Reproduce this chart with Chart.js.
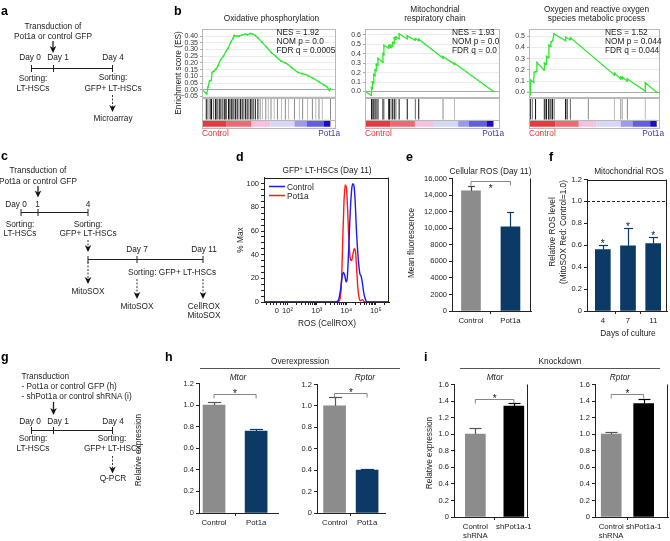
<!DOCTYPE html>
<html><head><meta charset="utf-8">
<script src="https://cdn.jsdelivr.net/npm/chart.js@4.4.0/dist/chart.umd.min.js"></script>
<style>
html,body{margin:0;padding:0;background:#fff;}
#wrap{position:relative;width:670px;height:541px;overflow:hidden;}
#wrap canvas{position:absolute;}
#wrap svg{position:absolute;left:0;top:0;pointer-events:none;}
</style></head><body><div id="wrap"></div>
<script>
// ======================= DATA =======================
// Panel b: GSEA running enrichment scores, [rank position % , ES]
const gseaTitles = [["Oxidative phosphorylation"], ["Mitochondrial", "respiratory chain"], ["Oxygen and reactive oxygen", "species metabolic process"]];
const gseaStats = [["NES = 1.92", "NOM p = 0.0", "FDR q = 0.0005"], ["NES = 1.93", "NOM p = 0.0", "FDR q = 0.0"], ["NES = 1.52", "NOM p = 0.044", "FDR q = 0.044"]];
const es1 = [[0,0],[3.5,-0.03],[4.5,0.02],[5.6,0.065],[7,0.07],[7.5,0.13],[9,0.14],[10.5,0.155],[12,0.18],[14,0.225],[16,0.25],[17.8,0.285],[19.5,0.31],[21.5,0.357],[23,0.38],[24,0.405],[26,0.4],[27.5,0.4],[30,0.41],[32.4,0.415],[34,0.41],[36,0.42],[38,0.415],[39.8,0.405],[42,0.385],[44.6,0.357],[48,0.32],[52,0.274],[55,0.25],[59,0.214],[62,0.2],[64,0.19],[67,0.165],[71.5,0.13],[75,0.12],[78.8,0.107],[83,0.085],[87.3,0.06],[91,0.036],[93,0.025],[95.1,-0.005],[95.9,0.007]];
const es2 = [[0,0],[4.7,-0.04],[4.8,0.04],[5.4,0.03],[5.5,0.1],[6.4,0.09],[6.5,0.18],[7.4,0.17],[7.5,0.23],[8.3,0.22],[8.4,0.29],[9.5,0.28],[9.6,0.35],[13.2,0.31],[13.3,0.4],[13.9,0.39],[14,0.49],[17.5,0.46],[17.6,0.48],[18,0.475],[18.1,0.49],[19.2,0.47],[19.3,0.49],[20.4,0.48],[20.5,0.52],[21.6,0.51],[21.7,0.57],[22.8,0.555],[22.9,0.58],[25.2,0.56],[25.3,0.61],[31.2,0.56],[31.3,0.59],[37.2,0.545],[37.3,0.56],[39.7,0.54],[39.8,0.555],[57.7,0.355],[57.8,0.37],[66.2,0.29],[66.3,0.3],[95.2,0]];
const es3 = [[0,-0.01],[1,-0.02],[1.2,0.11],[3.5,0.09],[4,0.18],[5.5,0.185],[6,0.265],[11.5,0.2],[11.8,0.26],[13,0.25],[13.4,0.32],[14.8,0.31],[15.2,0.42],[16.6,0.41],[16.9,0.45],[18,0.46],[19.2,0.52],[27.8,0.46],[28,0.49],[31.4,0.47],[31.7,0.485],[65.2,0.155],[65.3,0.17],[70,0.12],[70.1,0.135],[71.3,0.123],[71.4,0.135],[75,0.1],[75.1,0.12],[88.7,0.012],[88.8,0.085],[97.5,0]];
// gene-set hit positions (% of ranked list)
const hits1 = [3.2,4.4,6.1,7.1,8.5,10,10.5,11.7,12.9,14.1,15.4,16.6,17.3,18.3,19.8,20.2,21.5,22.2,23.2,24.6,25.1,26.3,27.6,28.8,30,31.2,32.4,33.7,34.9,36.1,37.3,38.5,39.8,41.7,43.4,45.1,47.6,49.5,51.5,53.9,56.3,59.3,62.2,64.6,69,72.7,75.1,78.8,82.4,84.9,87.3,89.8,95.9];
const hits2 = [4.8,5.5,6.5,7.5,8.4,9.6,13.3,14,17.6,18.1,19.3,20.5,21.7,22.9,25.3,31.3,37.3,39.8,57.8,66.3];
const hits3 = [1,2.5,5,11.7,12.4,13.4,14.9,15.4,16.7,17.9,19.2,27.9,29.1,31.6,45.3,65.2,70.1,71.4,75.1,88.8];
// ranked-list colour bar segment boundaries (% of list)
const rankBounds1 = [0,18,37,51,69,78,91,95.8];
const rankBounds2 = [0,19,37,51,69,77,90,95.2];
const rankBounds3 = [0,20,38,51.5,70,79,92.5,97.5];
const gseaTicks1 = [0.40,0.35,0.30,0.25,0.20,0.15,0.10,0.05,0.00,-0.05];
const gseaTicks2 = [0.6,0.5,0.4,0.3,0.2,0.1,0.0];
const gseaTicks3 = [0.5,0.4,0.3,0.2,0.1,0.0];

// Panel d: histogram, [log-scaled fluorescence position, % of max]
const histControl = [[1.2,0],[3.6,0],[3.72,1],[3.8,10],[3.86,22],[3.9,25],[3.95,22],[3.99,17],[4.03,20],[4.08,45],[4.13,75],[4.18,95],[4.22,100],[4.26,98],[4.3,85],[4.34,62],[4.38,45],[4.42,32],[4.46,24],[4.5,22],[4.54,17],[4.59,8],[4.64,3],[4.7,0],[5.45,0]];
const histPot1a = [[1.2,0],[3.7,0],[3.78,2],[3.84,20],[3.88,55],[3.92,85],[3.96,99],[4.0,97],[4.04,80],[4.09,50],[4.14,36],[4.18,35],[4.22,40],[4.27,45],[4.31,43],[4.35,28],[4.39,12],[4.43,4],[4.48,1],[4.55,2],[4.62,0],[5.45,0]];
const dTickVals = [1.64,2,3,4,5];
const dTickLabels = ["0","10\u00B2","10\u00B3","10\u2074","10\u2075"];
const dYTicks = [0,20,40,60,80,100];

// Panel e
const eCats = ["Control","Pot1a"];
const eMeans = [14500,10150];
const eErr = [600,1800];
const eTicks = [0,2000,4000,6000,8000,10000,12000,14000,16000];
// Panel f
const fCats = ["4","7","11"];
const fMeans = [0.56,0.595,0.615];
const fErr = [0.04,0.165,0.06];
const fTicks = [0,0.2,0.4,0.6,0.8,1.0,1.2];
// Panel h
const hCats = ["Control","Pot1a"];
const hMtorMeans = [1.0,0.76];
const hMtorErr = [0.03,0.02];
const hRptorMeans = [1.0,0.40];
const hRptorErr = [0.085,0.015];
const hTicks = [0,0.2,0.4,0.6,0.8,1.0,1.2];
// Panel i
const iCats = [["Control","shRNA"],"shPot1a-1"];
const iMtorMeans = [1.0,1.34];
const iMtorErr = [0.08,0.035];
const iRptorMeans = [1.0,1.37];
const iRptorErr = [0.03,0.05];
const iTicks = [0,0.2,0.4,0.6,0.8,1.0,1.2,1.4,1.6];

// ======================= STYLE / LAYOUT =======================
const FONT = "'Liberation Sans', Arial, Helvetica, sans-serif";
Chart.defaults.font.family = FONT;
Chart.defaults.font.size = 7.5;
Chart.defaults.color = '#222';
const GRAY = '#8c8c8c', NAVY = '#0b3a66', BLACK = '#000';
const rankColors = ['#e8393f','#ee6a72','#f5bfe0','#d6d6f6','#9a9aee','#5f5fe2','#1a0ec4'];
const wrap = document.getElementById('wrap');

function mkCanvas(p, yw, xh, padT, padR, padB) {
  const cv = document.createElement('canvas');
  const w = yw + (p.r - p.l) + padR, h = padT + (p.b - p.t) + xh + padB;
  cv.width = w; cv.height = h;
  cv.style.left = (p.l - yw) + 'px'; cv.style.top = (p.t - padT) + 'px';
  cv.style.width = w + 'px'; cv.style.height = h + 'px';
  wrap.appendChild(cv);
  return cv;
}

const annotPlugin = {
  id: 'annot',
  afterDatasetsDraw(chart, args, o) {
    const c = chart.ctx, ca = chart.chartArea, ys = chart.scales.y;
    c.save();
    const line = (x1, y1, x2, y2) => { c.beginPath(); c.moveTo(x1, y1); c.lineTo(x2, y2); c.stroke(); };
    if (o.gsea) {
      c.strokeStyle = '#b8b8b8'; c.lineWidth = 1;
      ['y','yh','yb'].forEach(k => { const s = chart.scales[k]; c.strokeRect(Math.round(ca.left) + 0.5, Math.round(s.top) + 0.5, Math.round(ca.width) - 1, Math.round(s.height)); });
    }
    if (o.frame) {
      c.strokeStyle = '#222'; c.lineWidth = 1;
      if (o.frame.includes('t')) line(ca.left, Math.round(ca.top) + 0.5, ca.right, Math.round(ca.top) + 0.5);
      if (o.frame.includes('r')) line(Math.round(ca.right) - 0.5, ca.top, Math.round(ca.right) - 0.5, ca.bottom);
    }
    if (o.ref != null) {
      c.strokeStyle = '#222'; c.setLineDash([3, 2]); c.lineWidth = 1;
      const y = Math.round(ys.getPixelForValue(o.ref)) + 0.5; line(ca.left, y, ca.right, y); c.setLineDash([]);
    }
    const meta = chart.getDatasetMeta(0), vals = chart.data.datasets[0].data.map(d => d.y);
    if (o.err) {
      meta.data.forEach((b, i) => {
        const y0 = ys.getPixelForValue(vals[i]), y1 = Math.round(ys.getPixelForValue(vals[i] + o.err[i])) + 0.5;
        const hw = b.width * o.cap, x = Math.round(b.x) + 0.5;
        c.strokeStyle = o.errColor[i]; c.lineWidth = 1.2;
        line(x, y0, x, y1); line(x - hw, y1, x + hw, y1);
        if (o.stars) { c.fillStyle = '#111'; c.font = '10px ' + FONT; c.textAlign = 'center'; c.textBaseline = 'alphabetic'; c.fillText('*', b.x, y1 + 1); }
      });
    }
    if (o.bracket) {
      const br = o.bracket, x0 = meta.data[0].x, x1 = meta.data[1].x;
      const y = Math.round(ys.getPixelForValue(br.y)) + 0.5;
      c.strokeStyle = '#666'; c.lineWidth = 0.8;
      line(x0, y + 4, x0, y); line(x0, y, x1, y); line(x1, y, x1, y + 4);
      c.fillStyle = '#111'; c.font = '10px ' + FONT; c.textAlign = 'center'; c.textBaseline = 'alphabetic';
      c.fillText('*', (x0 + x1) / 2, br.below ? y + 10 : y + 2);
    }
    c.restore();
  }
};

function gseaChart(p, es, hits, bounds, ticks, yMin, yMax, dec) {
  const yw = 30, padT = 2, padB = 6;
  const cv = mkCanvas(p, yw, 0, padT, 1, padB);
  const hitData = [];
  hits.forEach(h => { hitData.push({x: h, y: 0}, {x: h, y: 1}, {x: h, y: null}); });
  const hitCol = hits.map((h, i) => h < 42 ? (i % 3 === 1 ? '#666' : '#111') : (i % 2 ? '#bbb' : '#888'));
  const fix = s => { s.width = yw; };
  new Chart(cv, {
    type: 'line',
    data: { datasets: [
      { data: es.map(q => ({x: q[0], y: q[1]})), yAxisID: 'y', borderColor: '#2fe82f', borderWidth: 1.3, pointRadius: 0.9, pointBackgroundColor: '#2fe82f', pointBorderWidth: 0, tension: 0 },
      { data: hitData, yAxisID: 'yh', borderWidth: 1, pointRadius: 0, spanGaps: false, segment: { borderColor: ctx => hitCol[Math.floor(ctx.p0DataIndex / 3)] } },
      { data: bounds.map(b => ({x: b, y: 0.55})), yAxisID: 'yb', borderWidth: 7, pointRadius: 0, borderCapStyle: 'butt', segment: { borderColor: ctx => rankColors[ctx.p0DataIndex] } }
    ]},
    options: {
      responsive: false, animation: false, devicePixelRatio: 1,
      layout: { padding: { top: padT, right: 1, bottom: padB, left: 0 } },
      plugins: { legend: { display: false }, tooltip: { enabled: false }, annot: { gsea: true } },
      scales: {
        x: { type: 'linear', min: 0, max: 100, display: false },
        y: { stack: 'g', stackWeight: 71.5, weight: 3, min: yMin, max: yMax,
             afterBuildTicks: s => { s.ticks = ticks.map(v => ({value: v})); },
             ticks: { autoSkip: false, font: { size: 7 }, padding: 2, color: '#333', callback: v => (v < -1e-9 ? '\u2212' : '') + Math.abs(v).toFixed(dec) },
             grid: { color: c => (c.tick && Math.abs(c.tick.value) < 1e-9) ? '#a8a8a8' : '#ececec', tickLength: 2, tickColor: '#aaa' },
             border: { display: false }, afterFit: fix },
        yh: { stack: 'g', stackWeight: 23, weight: 2, min: 0, max: 1, ticks: { display: false }, grid: { display: false }, border: { display: false }, afterFit: fix },
        yb: { stack: 'g', stackWeight: 8.5, weight: 1, min: 0, max: 1, ticks: { display: false }, grid: { display: false }, border: { display: false }, afterFit: fix }
      }
    },
    plugins: [annotPlugin]
  });
}

// bar chart on a linear index axis: bars sit at category positions 1..n
function barChart(p, yw, xh, cats, means, colors, annot, yMax, ticks, fmt, xMin, xMax, thick) {
  const padT = 6, padR = 2;
  const cv = mkCanvas(p, yw, xh, padT, padR, 0);
  const xt = [];
  cats.forEach((c, i) => { xt.push(i + 1); if (i < cats.length - 1) xt.push(i + 1.5); });
  new Chart(cv, {
    type: 'bar',
    data: { datasets: [{ data: means.map((m, i) => ({x: i + 1, y: m})), backgroundColor: colors, borderWidth: 0, barThickness: thick }] },
    options: {
      responsive: false, animation: false, devicePixelRatio: 1,
      layout: { padding: { top: padT, right: padR, left: 0, bottom: 0 } },
      plugins: { legend: { display: false }, tooltip: { enabled: false }, annot: annot },
      scales: {
        x: { type: 'linear', min: xMin, max: xMax, offset: false,
             afterBuildTicks: s => { s.ticks = xt.map(v => ({value: v})); },
             grid: { display: true, offset: false, drawOnChartArea: false, tickLength: 3, color: '#222',
                     tickColor: c => (c.tick && Number.isInteger(c.tick.value)) ? 'rgba(0,0,0,0)' : '#222' },
             border: { display: true, color: '#222' },
             ticks: { font: { size: 7.8 }, color: '#222', maxRotation: 0, autoSkip: false, padding: 2,
                      callback: v => Number.isInteger(v) ? cats[v - 1] : '' },
             afterFit: s => { s.height = xh; } },
        y: { min: 0, max: yMax,
             afterBuildTicks: s => { s.ticks = ticks.map(v => ({value: v})); },
             ticks: { autoSkip: false, font: { size: 7.5 }, color: '#222', padding: 2, callback: fmt },
             grid: { drawOnChartArea: false, tickLength: 3, color: '#222' },
             border: { display: true, color: '#222' },
             afterFit: s => { s.width = yw; } }
      }
    },
    plugins: [annotPlugin]
  });
}

// ---- Panel b charts
gseaChart({l: 202, r: 339, t: 25, b: 128}, es1, hits1, rankBounds1, gseaTicks1, -0.059, 0.452, 2);
gseaChart({l: 365, r: 503, t: 25, b: 128}, es2, hits2, rankBounds2, gseaTicks2, -0.066, 0.661, 1);
gseaChart({l: 529, r: 663, t: 25, b: 128}, es3, hits3, rankBounds3, gseaTicks3, -0.047, 0.562, 1);

// ---- Panel d histogram
(function () {
  const p = {l: 264, r: 389, t: 177, b: 302}, yw = 22, xh = 20, padT = 6, padR = 6;
  const cv = mkCanvas(p, yw, xh, padT, padR, 0);
  const minor = [];
  [1.3, 1.42, 1.52, 1.76, 1.86, 1.93].forEach(v => minor.push(v));
  [2, 3, 4, 5].forEach(d => { for (let k = 2; k <= 9; k++) { const v = d + Math.log10(k); if (v < 5.45) minor.push(v); } });
  const xt = dTickVals.concat(minor);
  const yt = []; for (let v = 0; v <= 100; v += 5) yt.push(v);
  new Chart(cv, {
    type: 'line',
    data: { datasets: [
      { label: 'Control', data: histControl.map(q => ({x: q[0], y: q[1]})), borderColor: '#1a1aff', borderWidth: 1.4, pointRadius: 0, cubicInterpolationMode: 'monotone' },
      { label: 'Pot1a', data: histPot1a.map(q => ({x: q[0], y: q[1]})), borderColor: '#ff1a1a', borderWidth: 1.4, pointRadius: 0, cubicInterpolationMode: 'monotone' }
    ]},
    options: {
      responsive: false, animation: false, devicePixelRatio: 1,
      layout: { padding: { top: padT, right: padR, left: 0, bottom: 0 } },
      plugins: { legend: { display: false }, tooltip: { enabled: false }, annot: { frame: 'tr' } },
      scales: {
        x: { type: 'linear', min: 1.2, max: 5.45,
             afterBuildTicks: s => { s.ticks = xt.map(v => ({value: v})); },
             ticks: { autoSkip: false, maxRotation: 0, font: { size: 7.5 }, padding: 1, color: '#222',
                      callback: v => { const i = dTickVals.indexOf(v); return i >= 0 ? dTickLabels[i] : ''; } },
             grid: { drawOnChartArea: false, tickLength: 3, color: '#222' }, border: { color: '#222' },
             afterFit: s => { s.height = xh; } },
        y: { min: 0, max: 105.3,
             afterBuildTicks: s => { s.ticks = yt.map(v => ({value: v})); },
             ticks: { autoSkip: false, font: { size: 7.5 }, padding: 2, color: '#222', callback: v => dYTicks.includes(v) ? String(v) : '' },
             grid: { drawOnChartArea: false, tickLength: 3, color: '#222' }, border: { color: '#222' },
             afterFit: s => { s.width = yw; } }
      }
    },
    plugins: [annotPlugin]
  });
})();

// ---- Panel e
barChart({l: 452, r: 531, t: 178, b: 311}, 50, 16, eCats, eMeans, [GRAY, NAVY],
  { err: eErr, errColor: ['#444', NAVY], cap: 0.18, frame: 'r', bracket: { y: 15650, below: true } },
  16000, eTicks, v => v >= 10000 ? v.toLocaleString('en-US') : String(v), 0.52, 2.52, 19);
// ---- Panel f
barChart({l: 587, r: 667, t: 179, b: 311}, 24, 14, fCats, fMeans, [NAVY, NAVY, NAVY],
  { err: fErr, errColor: [NAVY, NAVY, NAVY], cap: 0.3, frame: 'tr', ref: 1.0, stars: true },
  1.2, fTicks, v => v === 0 ? '0' : v.toFixed(1), 0.372, 3.548, 15);
// ---- Panel h
const decFmt = v => v === 0 ? '0' : v.toFixed(1);
barChart({l: 199, r: 278, t: 383, b: 513}, 22, 14, hCats, hMtorMeans, [GRAY, NAVY],
  { err: hMtorErr, errColor: ['#555', NAVY], cap: 0.3, bracket: { y: 1.1 } },
  1.2, hTicks, decFmt, 0.643, 2.52, 22);
barChart({l: 317, r: 385, t: 384, b: 513}, 22, 14, hCats, hRptorMeans, [GRAY, NAVY],
  { err: hRptorErr, errColor: ['#555', NAVY], cap: 0.3, bracket: { y: 1.12 } },
  1.2, hTicks, decFmt, 0.46, 2.55, 22);
// ---- Panel i
barChart({l: 454, r: 532, t: 384, b: 517}, 22, 28, iCats, iMtorMeans, [GRAY, BLACK],
  { err: iMtorErr, errColor: ['#555', BLACK], cap: 0.3, frame: 'r', bracket: { y: 1.42 } },
  1.6, iTicks, decFmt, 0.445, 2.38, 20);
barChart({l: 595, r: 668, t: 384, b: 517}, 22, 28, iCats, iRptorMeans, [GRAY, BLACK],
  { err: iRptorErr, errColor: ['#555', BLACK], cap: 0.3, frame: 'r', bracket: { y: 1.48 } },
  1.6, iTicks, decFmt, 0.5, 2.75, 20);

// ======================= SVG TEXT & SCHEMATICS =======================
const S = [];
function T(x, y, s, o = {}) {
  const rot = o.r ? ` transform="rotate(-90 ${x} ${y})" dominant-baseline="central"` : '';
  S.push(`<text x="${x}" y="${y}" font-size="${o.size || 8.3}" text-anchor="${o.a || 'middle'}"${o.b ? ' font-weight="bold"' : ''}${o.i ? ' font-style="italic"' : ''} fill="${o.c || '#222'}"${rot}>${s}</text>`);
}
function L(x1, y1, x2, y2, o = {}) {
  S.push(`<line x1="${x1}" y1="${y1}" x2="${x2}" y2="${y2}" stroke="${o.c || '#222'}" stroke-width="${o.w || 1}"${o.dash ? ' stroke-dasharray="2 1.5"' : ''}/>`);
}
function A(x, y1, y2, dash) {
  L(x, y1, x, y2 - 5, {dash: dash, w: dash ? 0.9 : 1.3});
  S.push(`<polygon points="${x - 3.3},${y2 - 7} ${x},${y2 - 5} ${x + 3.3},${y2 - 7} ${x},${y2}" fill="#111"/>`);
}
function TL(x1, x2, y, ticks) { L(x1, y, x2, y); ticks.forEach(t => L(t, y - 3.5, t, y + 3.5)); }

// panel letters
[['a', 1, 15], ['b', 174, 15], ['c', 1, 160], ['d', 236, 161], ['e', 406, 161], ['f', 549, 161], ['g', 1, 361], ['h', 165, 361], ['i', 424, 361]]
  .forEach(q => T(q[1], q[2], q[0], {a: 'start', b: true, size: 12.5, c: '#000'}));

// panel a
T(53, 29, 'Transduction of'); T(53, 38.5, 'Pot1a or control GFP');
A(53, 41, 53);
T(30, 59.5, 'Day 0'); T(58, 59.5, 'Day 1'); T(113, 59.5, 'Day 4');
TL(31.5, 112.5, 68.5, [31.5, 53.5, 112.5]);
T(33, 80.5, 'Sorting:'); T(33, 91, 'LT-HSCs');
T(113, 80, 'Sorting:'); T(113, 90.5, 'GFP+ LT-HSCs');
A(112.5, 95, 112, true); T(113, 121, 'Microarray');

// panel b texts
const gx = [[202, 339], [365, 503], [529, 663]];
gseaTitles.forEach((t, k) => {
  const cx = [271.5, 435, 596.5][k];
  if (t.length === 1) T(cx, 21, t[0]); else { T(cx, 12, t[0]); T(cx, 21, t[1]); }
  const nx = [276.5, 452, 605][k];
  gseaStats[k].forEach((s, j) => T(nx, 35 + j * 9.2, s, {a: 'start', size: 8.3}));
  T(gx[k][0], 136, 'Control', {a: 'start', c: '#e8323c', size: 8.3});
  T(gx[k][1] + 1, 136, 'Pot1a', {a: 'end', c: '#3b3ba8', size: 8.3});
});
T(178, 73, 'Enrichment score (ES)', {r: true, size: 8.3});

// panel c
T(38, 173, 'Transduction of'); T(38, 183.5, 'Pot1a or control GFP');
A(38, 186, 197.5);
T(16, 206.5, 'Day 0'); T(37.5, 206.5, '1'); T(88, 206.5, '4');
TL(21, 88, 212.5, [21, 38, 88]);
T(20, 226.5, 'Sorting:'); T(20, 236, 'LT-HSCs');
T(88, 226.5, 'Sorting:'); T(88, 236, 'GFP+ LT-HSCs');
A(88, 240, 252, true);
TL(88, 203, 259.5, [88, 137, 203]);
T(137, 251.5, 'Day 7'); T(204, 251.5, 'Day 11');
T(172, 275, 'Sorting: GFP+ LT-HSCs');
A(88, 262, 284, true); T(88, 293.5, 'MitoSOX');
A(137, 279, 299, true); T(137, 308.5, 'MitoSOX');
A(203, 279, 299, true); T(204, 308.5, 'CellROX'); T(204, 318, 'MitoSOX');

// panel d texts
T(327, 173, 'GFP<tspan font-size="5.5" dy="-3">+</tspan><tspan dy="3"> LT-HSCs (Day 11)</tspan>');
T(240, 240, '% Max', {r: true});
T(327, 326, 'ROS (CellROX)');
L(269, 186.5, 285, 186.5, {c: '#1a1aff', w: 1.5}); T(287, 189.5, 'Control', {a: 'start'});
L(269, 195.5, 285, 195.5, {c: '#ff1a1a', w: 1.5}); T(287, 198.5, 'Pot1a', {a: 'start'});

// panel e texts
T(490.5, 173.5, 'Cellular ROS (Day 11)');
T(411, 243, 'Mean fluorescence', {r: true});

// panel f texts
T(629, 174, 'Mitochondrial ROS');
T(552, 232, 'Relative ROS level', {r: true});
T(563, 232, '(MitoSOX Red: Control=1.0)', {r: true});
T(628, 336, 'Days of culture');

// panel g
T(21.5, 378.5, 'Transduction', {a: 'start'});
T(21.5, 388.5, '- Pot1a or control GFP (h)', {a: 'start'});
T(21.5, 399, '- shPot1a or control shRNA (i)', {a: 'start'});
A(53.5, 402, 415);
T(30, 424, 'Day 0'); T(58, 424, 'Day 1'); T(113, 424, 'Day 4');
TL(31.5, 112.5, 430.5, [31.5, 53.5, 112.5]);
T(33, 441, 'Sorting:'); T(33, 451, 'LT-HSCs');
T(112, 441, 'Sorting:'); T(112.5, 451, 'GFP+ LT-HSCs');
A(112.5, 456, 473.5, true); T(113, 481, 'Q-PCR');

// panel h texts
T(300, 364, 'Overexpression'); L(200, 368.5, 400, 368.5, {c: '#555'});
T(238, 380, 'Mtor', {i: true}); T(365, 380, 'Rptor', {i: true});
T(138, 450, 'Relative expression', {r: true});

// panel i texts
T(560, 364, 'Knockdown'); L(460, 368.5, 660, 368.5, {c: '#555'});
T(495, 380, 'Mtor', {i: true}); T(620, 380, 'Rptor', {i: true});
T(428.5, 453, 'Relative expression', {r: true});

wrap.insertAdjacentHTML('beforeend', `<svg width="670" height="541" font-family="${FONT.replace(/'/g, '&quot;')}">${S.join('')}</svg>`);
</script></body></html>
